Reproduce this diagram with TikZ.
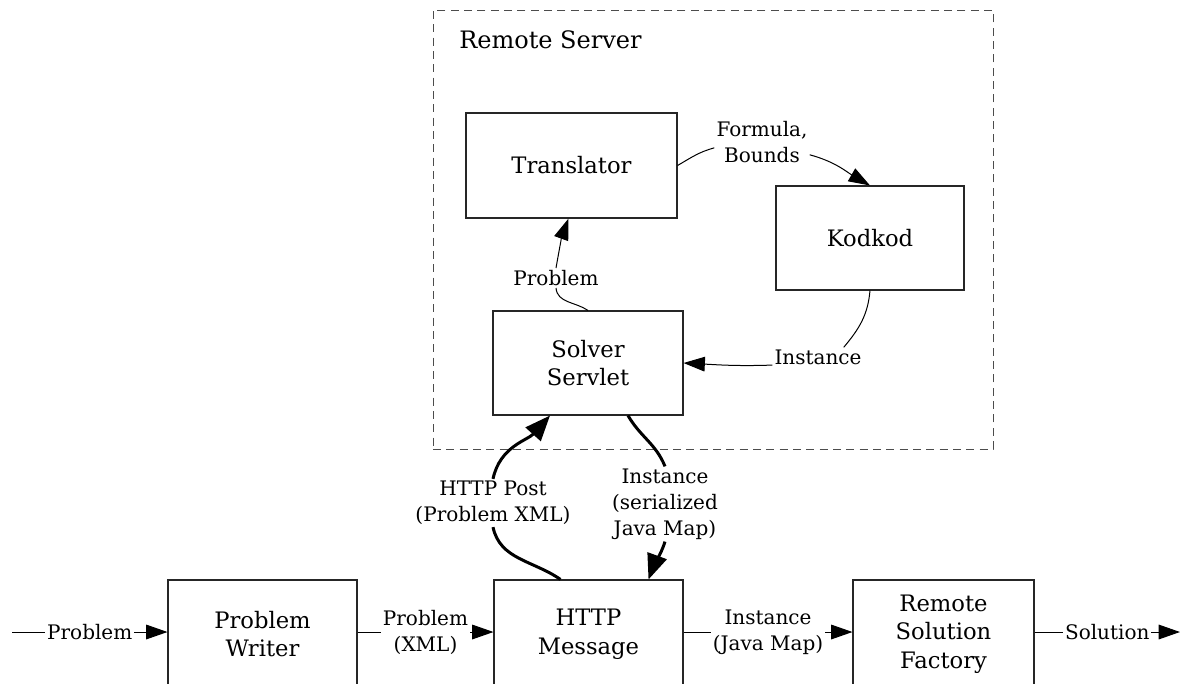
\documentclass[tikz,border=0pt]{standalone}
\usepackage{fontspec}
\setmainfont{DejaVu Serif}
\usetikzlibrary{arrows.meta,calc}
\begin{document}
\begin{tikzpicture}[x=0.75pt,y=-0.75pt,
  box/.style={draw=black!85, line width=0.8pt, rectangle, align=center, font=\fontsize{17}{21.5}\selectfont, inner sep=0pt},
  lab/.style={fill=white, inner sep=1.5pt, align=center, font=\fontsize{15}{19.5}\selectfont},
  thinline/.style={line width=0.75pt},
  thinarr/.style={line width=0.75pt, -{Triangle[length=16pt,width=11pt]}},
  thickline/.style={line width=2.25pt},
  thickarr/.style={line width=2.25pt, -{Triangle[length=19pt,width=15pt]}},
]
\useasboundingbox (0,0) rectangle (1204,683);

% remote server frame
\node[draw=black!70, line width=0.75pt, dash pattern=on 6pt off 4pt, minimum width=420pt, minimum height=329.25pt, inner sep=0pt] (server) at (713,229.5) {};
\node[anchor=west, inner sep=0pt, font=\fontsize{18}{22}\selectfont] (title) at (459,40) {Remote Server};

% boxes
\node[box, minimum width=158.25pt, minimum height=78.75pt] (trans) at (571.5,165.5) {Translator};
\node[box, minimum width=141pt, minimum height=78pt] (kod) at (870,238) {Kodkod};
\node[box, minimum width=142.5pt, minimum height=78pt] (solver) at (588,363) {Solver\\Servlet};
\node[box, minimum width=141.75pt, minimum height=81pt] (pw) at (262.5,634) {Problem\\Writer};
\node[box, minimum width=141.75pt, minimum height=81pt] (http) at (588.5,634) {HTTP\\Message};
\node[box, minimum width=135.75pt, minimum height=81pt] (rsf) at (943.5,634) {Remote\\Solution\\Factory};

\coordinate (in) at (12,632);
\coordinate (out) at (1180,632);

% labels of curved edges
\node[lab] (lp) at (493,503) {HTTP Post\\(Problem XML)};
\node[lab] (lq) at (665,504) {Instance\\(serialized\\Java Map)};
\node[lab] (lpr) at (556,278) {Problem};
\node[lab] (lf) at (762,142) {Formula,\\Bounds};
\node[lab] (li) at (818,357) {Instance};

% straight edges
\draw[thinarr] (in) -- node[lab] {Problem} (in -| pw.west);
\draw[thinarr] (in -| pw.east) -- node[lab] {Problem\\(XML)} (in -| http.west);
\draw[thinarr] (in -| http.east) -- node[lab] {Instance\\(Java Map)} (in -| rsf.west);
\draw[thinarr] (in -| rsf.east) -- node[lab] {Solution} (out);

% HTTP post
\draw[thickline] ($(http.north)+(-28,0)$) to[out=145,in=-78] (lp.south);
\draw[thickarr] (lp.north) to[out=78,in=228] ($(solver.south)+(-38,0)$);
% instance back
\draw[thickline] ($(solver.south)+(40,0)$) to[out=-60,in=112] (lq.north);
\draw[thickarr] (lq.south) to[out=-108,in=70] ($(http.north)+(60,0)$);
% problem
\draw[thinline] (solver.north) to[out=145,in=-85] (lpr.south);
\draw[thinarr] (lpr.north) to[out=80,in=250] ($(trans.south)+(-3,0)$);
% formula, bounds
\draw[thinline] (trans.east) to[out=30,in=195] (lf.187);
\draw[thinarr] (lf.-15) to[out=-15,in=150] (kod.north);
% instance
\draw[thinline] (kod.south) to[out=-95,in=50] ($(li.north east)+(-20,0)$);
\draw[thinarr] (li.190) to[out=182,in=-3] (solver.east);
\end{tikzpicture}
\end{document}
